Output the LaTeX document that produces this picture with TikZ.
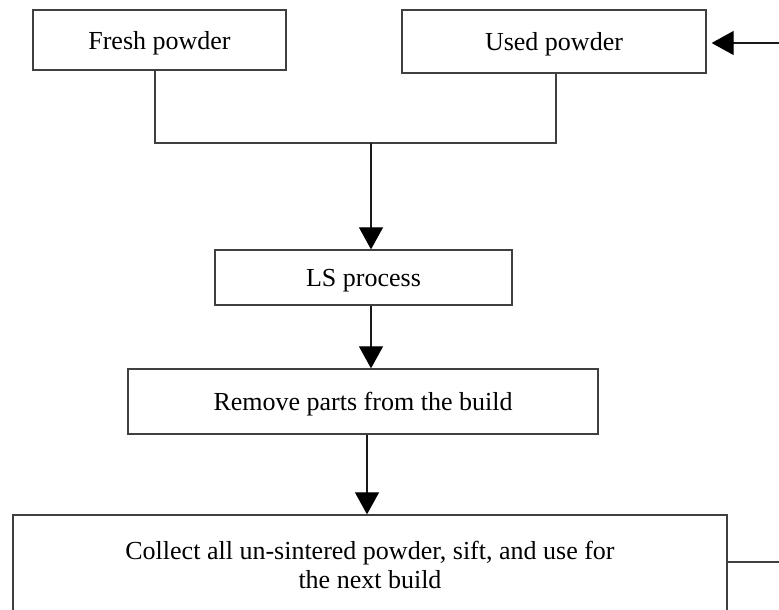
\documentclass[tikz,border=0pt]{standalone}
\usepackage{fontspec}
\setmainfont{Liberation Serif}
\usetikzlibrary{arrows.meta}
\newcommand{\lowtxt}[1]{\rule{0pt}{24pt}#1}
\begin{document}
\begin{tikzpicture}[x=1pt,y=-1pt,
  box/.style={draw=black!75,line width=1.3pt,inner sep=0pt,font=\fontsize{26}{29}\selectfont,align=center},
  conn/.style={draw=black!75,line width=1.3pt},
  arr/.style={draw=black!90,line width=1.1pt,-{Triangle[length=22pt,width=24pt,fill=black,color=black]}}]
\useasboundingbox (0,0) rectangle (779,610);
\clip (0,0) rectangle (779,610);
\node[box,minimum width=253pt,minimum height=60pt] (fresh) at (159.5,40) {\lowtxt{Fresh powder}};
\node[box,minimum width=304pt,minimum height=63pt] (used) at (554,41.5) {\lowtxt{Used powder}};
\node[box,minimum width=297pt,minimum height=55pt] (ls) at (363.5,277.5) {\lowtxt{LS process}};
\node[box,minimum width=470pt,minimum height=65pt] (remove) at (363,401.5) {\lowtxt{Remove parts from the build}};
\node[box,minimum width=714pt,minimum height=100pt] (collect) at (370,565) {Collect all un-sintered powder, sift, and use for\\the next build};
\coordinate (fl) at (155,0);
\coordinate (ur) at (556,0);
\coordinate (j) at (371,143);
\coordinate (a2) at (371,0);
\coordinate (a3) at (367,0);
\coordinate (eb) at (779,562);
\coordinate (et) at (779,43);
\draw[conn] (fl |- fresh.south) -- (fl |- j) -- (ur |- j) -- (ur |- used.south);
\draw[arr] (j) -- (j |- ls.north);
\draw[arr] (a2 |- ls.south) -- (a2 |- remove.north);
\draw[arr] (a3 |- remove.south) -- (a3 |- collect.north);
\draw[conn] (collect.east |- eb) -- (eb);
\draw[arr] (et) -- ([xshift=5pt]used.east |- et);
\end{tikzpicture}
\end{document}
